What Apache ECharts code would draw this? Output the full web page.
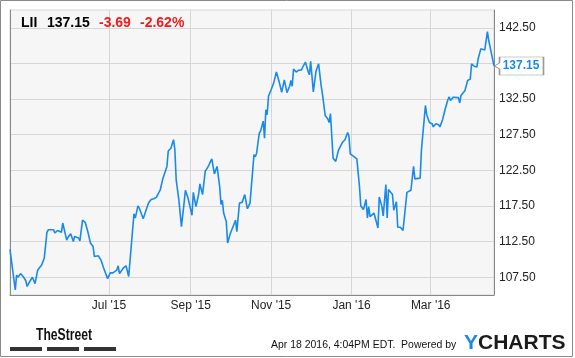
<!DOCTYPE html>
<html><head><meta charset="utf-8">
<script src="https://cdn.jsdelivr.net/npm/echarts@6/dist/echarts.min.js"></script>
<style>html,body{margin:0;padding:0;background:#fff}#c{width:575px;height:358px}</style>
</head><body><div id="c"></div>
<script>
// ---- data ----
const dates = [
'2015-04-17','2015-04-21','2015-04-22','2015-04-23','2015-04-25','2015-04-27','2015-04-28','2015-04-29','2015-04-30',
'2015-05-02','2015-05-04','2015-05-06','2015-05-08','2015-05-11','2015-05-13','2015-05-15','2015-05-16','2015-05-20',
'2015-05-21','2015-05-23','2015-05-26','2015-05-27','2015-05-30','2015-05-31',
'2015-06-02','2015-06-04','2015-06-05','2015-06-08','2015-06-09','2015-06-11','2015-06-13','2015-06-15','2015-06-17',
'2015-06-19','2015-06-20','2015-06-21','2015-06-23','2015-06-25','2015-06-27','2015-06-30',
'2015-07-02','2015-07-04','2015-07-07','2015-07-08','2015-07-09','2015-07-10','2015-07-12','2015-07-14','2015-07-16',
'2015-07-17','2015-07-20','2015-07-21','2015-07-23','2015-07-24','2015-07-27','2015-07-31',
'2015-08-02','2015-08-04','2015-08-06','2015-08-07','2015-08-09','2015-08-11','2015-08-14','2015-08-15','2015-08-17',
'2015-08-19','2015-08-20','2015-08-21','2015-08-23','2015-08-25','2015-08-27','2015-08-28','2015-08-30',
'2015-09-02','2015-09-03','2015-09-05','2015-09-07','2015-09-08','2015-09-10','2015-09-12','2015-09-14','2015-09-15',
'2015-09-17','2015-09-19','2015-09-21','2015-09-23','2015-09-24','2015-09-25','2015-09-26','2015-09-28','2015-09-29',
'2015-10-01','2015-10-02','2015-10-05','2015-10-06','2015-10-08','2015-10-10','2015-10-12','2015-10-14','2015-10-16',
'2015-10-19','2015-10-20','2015-10-21','2015-10-23','2015-10-24','2015-10-26','2015-10-27','2015-10-28','2015-10-29','2015-10-30',
'2015-11-01','2015-11-03','2015-11-05','2015-11-07','2015-11-09','2015-11-11','2015-11-13','2015-11-15','2015-11-16',
'2015-11-17','2015-11-18','2015-11-20','2015-11-22','2015-11-24','2015-11-25','2015-11-27','2015-11-29','2015-11-30',
'2015-12-01','2015-12-03','2015-12-05','2015-12-07','2015-12-09','2015-12-10','2015-12-12','2015-12-14','2015-12-15',
'2015-12-16','2015-12-18','2015-12-20','2015-12-22','2015-12-23','2015-12-25','2015-12-27','2015-12-29','2015-12-30','2015-12-31',
'2016-01-03','2016-01-05','2016-01-07','2016-01-08','2016-01-10','2016-01-12','2016-01-13','2016-01-14','2016-01-15',
'2016-01-18','2016-01-19','2016-01-21','2016-01-22','2016-01-24','2016-01-25','2016-01-27','2016-01-28','2016-01-29',
'2016-02-01','2016-02-02','2016-02-04','2016-02-05','2016-02-07','2016-02-09','2016-02-12','2016-02-15','2016-02-17',
'2016-02-18','2016-02-22','2016-02-23','2016-02-26','2016-02-27','2016-02-29',
'2016-03-02','2016-03-03','2016-03-05','2016-03-07','2016-03-08','2016-03-10','2016-03-12','2016-03-14','2016-03-15',
'2016-03-16','2016-03-18','2016-03-22','2016-03-23','2016-03-24','2016-03-27','2016-03-29','2016-03-31',
'2016-04-01','2016-04-03','2016-04-05','2016-04-06','2016-04-07','2016-04-08','2016-04-11','2016-04-13','2016-04-14',
'2016-04-15','2016-04-18'
];
const prices = [
111.4,105.7,107.8,107.5,108.0,107.6,107.7,107.0,106.2,
106.9,107.5,106.6,108.5,109.2,110.2,113.8,114.15,114.15,
113.7,114.05,113.8,115.1,112.7,113.1,
113.6,112.5,113.2,113.0,112.6,115.5,115.2,113.9,112.3,
111.8,110.4,110.6,110.5,109.9,108.8,107.3,
108.1,108.1,108.5,109.1,108.0,108.1,108.8,109.1,107.6,
107.4,116.4,115.8,117.5,117.2,115.7,117.9,
118.4,118.5,118.7,118.6,119.8,121.4,123.05,125.2,125.6,
126.8,125.4,121.2,118.4,114.6,117.9,119.7,118.6,
116.2,119.4,117.4,119.1,120.6,119.1,122.35,122.95,123.3,
124.1,122.0,123.05,120.2,117.7,118.3,116.5,115.3,112.3,
113.6,113.45,115.5,113.9,117.9,118.0,119.1,117.1,117.9,
124.7,124.4,124.9,127.7,128.0,129.4,127.0,131.0,130.3,132.9,
133.8,134.8,136.3,135.0,133.45,135.2,133.4,134.3,135.1,
134.3,136.7,136.3,136.55,136.6,137.0,137.7,136.4,135.9,
137.8,133.5,136.4,137.45,134.3,133.1,130.2,129.7,129.2,
130.45,124.2,123.75,125.3,125.2,126.4,126.8,127.8,127.3,124.8,
124.4,124.1,120.2,117.5,117.0,118.4,115.8,117.4,116.0,
116.5,116.6,114.4,118.75,117.4,116.1,120.5,115.8,119.8,
119.1,116.9,118.1,114.5,114.5,114.05,119.4,119.7,123.05,
121.3,121.4,125.4,131.6,130.3,129.2,
129.05,128.6,129.05,128.9,128.6,129.6,131.1,132.4,132.8,
132.3,132.75,132.7,131.95,133.0,133.7,135.1,135.3,
137.45,137.1,137.0,138.15,138.15,139.55,139.4,141.95,140.75,
140.75,137.15
];
const yTicks = [107.5,112.5,117.5,122.5,127.5,132.5,137.5,142.5];
const xTicks = ['2015-07-01','2015-09-01','2015-11-01','2016-01-01','2016-03-01'];
const xRange = ['2015-04-17','2016-04-18'];
const yRange = [105, 145];
const ticker = 'LII';
const lastPrice = 137.15;
const change = -3.69;
const changePct = -2.62;
const stamp = 'Apr 18 2016, 4:04PM EDT.  Powered by';

// ---- chart ----
const months = ['Jan','Feb','Mar','Apr','May','Jun','Jul','Aug','Sep','Oct','Nov','Dec'];
const ts = s => { const p = s.split('-').map(Number); return Date.UTC(p[0], p[1] - 1, p[2]); };
const FONT = "'Liberation Sans', Arial, sans-serif";
const BLUE = '#1a8aea';
const seriesData = dates.map((d, i) => [ts(d), prices[i]]);
const n = dates.length - 1;

const chart = echarts.init(document.getElementById('c'), null, {renderer: 'canvas'});
chart.setOption({
  animation: false,
  backgroundColor: '#ffffff',
  textStyle: {fontFamily: FONT},
  grid: {left: 10, right: 81, top: 10, bottom: 63, show: true,
         backgroundColor: '#f6f6f6', borderColor: '#d6d6d6', borderWidth: 1},
  xAxis: {
    type: 'value', min: ts(xRange[0]), max: ts(xRange[1]),
    axisLine: {show: true, lineStyle: {color: '#888', width: 1}},
    axisTick: {show: false, customValues: xTicks.map(ts)},
    axisLabel: {customValues: xTicks.map(ts), margin: 5, color: '#222', fontSize: 12, fontFamily: FONT,
      formatter: v => { const d = new Date(v); return months[d.getUTCMonth()] + " '" + String(d.getUTCFullYear()).slice(2); }},
    splitLine: {show: true, lineStyle: {color: '#d6d6d6', width: 1}}
  },
  yAxis: [{
    type: 'value', position: 'right', min: yRange[0], max: yRange[1],
    axisLine: {show: true, lineStyle: {color: '#888', width: 1}},
    axisTick: {show: false, customValues: yTicks},
    axisLabel: {customValues: yTicks, margin: 5, color: '#222', fontSize: 12, fontFamily: FONT,
      formatter: v => v.toFixed(2)},
    splitLine: {show: true, lineStyle: {color: '#d6d6d6', width: 1}}
  }, {
    type: 'value', position: 'left', min: yRange[0], max: yRange[1],
    axisLine: {show: true, lineStyle: {color: '#888', width: 1}},
    axisTick: {show: false}, axisLabel: {show: false}, splitLine: {show: false}
  }],
  series: [{
    type: 'line', data: seriesData, showSymbol: false, symbol: 'none',
    lineStyle: {color: BLUE, width: 1.6}, z: 3,
    markPoint: {
      silent: true,
      symbol: 'path://M5,0L49,0L49,18L5,18L5,12L0,9L5,6Z',
      symbolKeepAspect: false,
      symbolSize: [49, 18], symbolOffset: [25, 0],
      itemStyle: {color: '#ffffff', borderColor: '#999', borderWidth: 1},
      label: {show: true, position: 'inside', offset: [2, 0], color: BLUE, fontWeight: 'bold', fontSize: 12,
        fontFamily: FONT, formatter: p => p.value.toFixed(2)},
      data: [{coord: [ts(dates[n]), prices[n]], value: lastPrice}]
    }
  }],
  graphic: [
    {type: 'rect', shape: {x: 0.5, y: 0.5, width: 572, height: 356}, style: {fill: null, stroke: '#8a8a8a', lineWidth: 1}, z: 100},
    {type: 'text', x: 21, y: 23, style: {text: ticker, fill: '#000', font: 'bold 14px ' + FONT, textVerticalAlign: 'middle'}, z: 100},
    {type: 'text', x: 47, y: 23, style: {text: lastPrice.toFixed(2), fill: '#000', font: 'bold 14px ' + FONT, textVerticalAlign: 'middle'}, z: 100},
    {type: 'text', x: 99, y: 23, style: {text: change.toFixed(2), fill: '#f21b1b', font: 'bold 14px ' + FONT, textVerticalAlign: 'middle'}, z: 100},
    {type: 'text', x: 140, y: 23, style: {text: changePct.toFixed(2) + '%', fill: '#f21b1b', font: 'bold 14px ' + FONT, textVerticalAlign: 'middle'}, z: 100},
    {type: 'text', x: 36, y: 336, scaleX: 0.76, style: {text: 'TheStreet', fill: '#111', font: 'bold 16px ' + FONT, textVerticalAlign: 'middle'}, z: 100},
    {type: 'rect', shape: {x: 10, y: 347, width: 32, height: 4}, style: {fill: '#333'}},
    {type: 'rect', shape: {x: 47, y: 347, width: 32, height: 4}, style: {fill: '#333'}},
    {type: 'rect', shape: {x: 84, y: 347, width: 32, height: 4}, style: {fill: '#333'}},
    {type: 'text', x: 271, y: 345, scaleX: 0.95, style: {text: stamp, fill: '#111', font: '11px ' + FONT, textVerticalAlign: 'middle'}, z: 100},
    {type: 'text', x: 464, y: 343, style: {rich: {y: {fill: BLUE, font: 'bold 21px ' + FONT}, c: {fill: '#1b1b1b', font: 'bold 21px ' + FONT}}, text: '{y|Y}{c|CHARTS}', textVerticalAlign: 'middle'}, z: 100}
  ]
});
</script></body></html>
